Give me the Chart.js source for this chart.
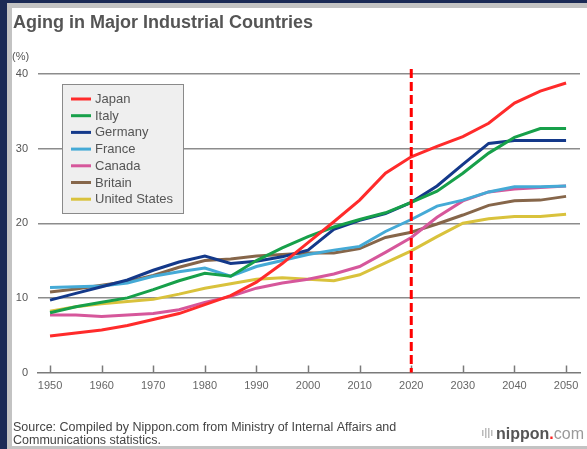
<!DOCTYPE html>
<html>
<head>
<meta charset="utf-8">
<script src="https://cdn.jsdelivr.net/npm/chart.js@4.4.0/dist/chart.umd.min.js"></script>
<style>
  html, body { margin: 0; padding: 0; background: #1b2a56; overflow: hidden; }
  #frame { position: absolute; left: 7px; top: 3px; width: 620px; height: 438px; background: #fff; border: 5px solid #c3c3c3; border-right: none; }
  #chart { position: absolute; left: 0; top: 0; }
</style>
</head>
<body>
<div id="frame"></div>
<canvas id="chart" width="587" height="449"></canvas>
<script>
const FONT = '"Liberation Sans", Arial, sans-serif';

// 65+ share of population, every 5 years
const years = [1950, 1955, 1960, 1965, 1970, 1975, 1980, 1985, 1990, 1995, 2000,
               2005, 2010, 2015, 2020, 2025, 2030, 2035, 2040, 2045, 2050];
const japan   = [4.9, 5.3, 5.7, 6.3, 7.1, 7.9, 9.1, 10.3, 12.1, 14.6, 17.4, 20.2, 23.1, 26.7, 28.9, 30.3, 31.6, 33.4, 36.1, 37.7, 38.8];
const italy   = [8.0, 8.8, 9.4, 10.0, 11.1, 12.3, 13.3, 12.9, 15.0, 16.7, 18.2, 19.5, 20.5, 21.4, 22.8, 24.3, 26.7, 29.4, 31.5, 32.7, 32.7];
const germany = [9.7, 10.6, 11.5, 12.4, 13.7, 14.8, 15.6, 14.6, 14.9, 15.5, 16.4, 19.2, 20.4, 21.3, 22.8, 25.0, 27.9, 30.7, 31.1, 31.1, 31.1];
const france  = [11.4, 11.5, 11.6, 12.0, 12.9, 13.5, 14.0, 12.9, 14.2, 15.0, 15.8, 16.4, 16.9, 18.9, 20.5, 22.3, 23.1, 24.2, 24.9, 24.9, 25.0];
const canada  = [7.7, 7.7, 7.5, 7.7, 7.9, 8.4, 9.4, 10.2, 11.3, 12.0, 12.5, 13.2, 14.2, 16.1, 18.1, 20.8, 23.0, 24.2, 24.6, 24.8, 25.0];
const britain = [10.8, 11.2, 11.7, 12.2, 13.0, 14.1, 15.0, 15.2, 15.6, 15.8, 16.0, 16.0, 16.6, 18.1, 18.8, 19.9, 21.1, 22.4, 23.0, 23.1, 23.6];
const usa     = [8.2, 8.8, 9.2, 9.5, 9.8, 10.5, 11.3, 11.9, 12.5, 12.7, 12.5, 12.3, 13.1, 14.7, 16.3, 18.2, 20.0, 20.6, 20.9, 20.9, 21.2];

const countries = ['Japan', 'Italy', 'Germany', 'France', 'Canada', 'Britain', 'United States'];
const colors = ['#ff2b2b', '#17a04a', '#14398a', '#45aad6', '#d6579b', '#86664a', '#d9c23c'];
const xTicks = [1950, 1960, 1970, 1980, 1990, 2000, 2010, 2020, 2030, 2040, 2050];
const markYear = 2020;

const series = [japan, italy, germany, france, canada, britain, usa];

const datasets = series.map((vals, i) => ({
    label: countries[i],
    data: vals.map((v, j) => ({ x: years[j], y: v })),
    borderColor: colors[i],
    borderWidth: 3,
    pointRadius: 0,
    tension: 0,
    fill: false
}));

const decorations = {
    id: 'decorations',
    afterDatasetsDraw(chart) {
        const ctx = chart.ctx;
        const area = chart.chartArea;
        const xs = chart.scales.x;

        // small upward tick marks on the x axis
        ctx.save();
        ctx.strokeStyle = '#7a7a7a';
        ctx.lineWidth = 1.5;
        xTicks.forEach(t => {
            const px = Math.round(xs.getPixelForValue(t)) + 0.5;
            ctx.beginPath();
            ctx.moveTo(px, area.bottom - 7);
            ctx.lineTo(px, area.bottom);
            ctx.stroke();
        });

        // dashed marker at 2020
        const mx = xs.getPixelForValue(markYear);
        ctx.strokeStyle = '#ff0000';
        ctx.lineWidth = 3;
        ctx.setLineDash([9, 4]);
        ctx.beginPath();
        ctx.moveTo(mx, area.top - 5);
        ctx.lineTo(mx, area.bottom);
        ctx.stroke();
        ctx.setLineDash([]);

        // legend box
        ctx.fillStyle = '#efefef';
        ctx.fillRect(62, 84, 121, 129);
        ctx.strokeStyle = '#8a8a8a';
        ctx.lineWidth = 1;
        ctx.strokeRect(62.5, 84.5, 121, 129);
        ctx.font = '13px ' + FONT;
        ctx.textBaseline = 'middle';
        countries.forEach((name, i) => {
            const y = 99 + i * 16.7;
            ctx.strokeStyle = colors[i];
            ctx.lineWidth = 3;
            ctx.beginPath();
            ctx.moveTo(71, y);
            ctx.lineTo(91, y);
            ctx.stroke();
            ctx.fillStyle = '#555';
            ctx.fillText(name, 95, y + 0.5);
        });
        ctx.restore();
    },
    afterDraw(chart) {
        const ctx = chart.ctx;
        ctx.save();
        ctx.textBaseline = 'alphabetic';
        ctx.fillStyle = '#555';
        ctx.font = 'bold 18px ' + FONT;
        ctx.fillText('Aging in Major Industrial Countries', 13, 28);

        ctx.font = '11px ' + FONT;
        ctx.fillText('(%)', 12, 60);

        ctx.fillStyle = '#444';
        ctx.font = '12.5px ' + FONT;
        ctx.fillText('Source: Compiled by Nippon.com from Ministry of Internal Affairs and', 13, 431);
        ctx.fillText('Communications statistics.', 13, 444);

        // nippon.com mark
        ctx.fillStyle = '#bbb';
        [0, 3, 6, 9].forEach((dx, k) => {
            const h = [6, 10, 10, 6][k];
            ctx.fillRect(482 + dx, 434 - h / 2 - 1, 1.5, h);
        });
        ctx.font = 'bold 16px ' + FONT;
        ctx.fillStyle = '#555';
        ctx.fillText('nippon', 496, 439);
        let w = ctx.measureText('nippon').width;
        ctx.fillStyle = '#ff2020';
        ctx.fillText('.', 496 + w, 439);
        const wd = ctx.measureText('.').width;
        ctx.font = '16px ' + FONT;
        ctx.fillStyle = '#9a9a9a';
        ctx.fillText('com', 496 + w + wd, 439);
        ctx.restore();
    }
};

new Chart(document.getElementById('chart'), {
    type: 'line',
    data: { datasets: datasets },
    options: {
        responsive: false,
        animation: false,
        layout: { padding: { left: 0, top: 74, right: 7, bottom: 0 } },
        plugins: { legend: { display: false }, tooltip: { enabled: false } },
        scales: {
            x: {
                type: 'linear',
                min: 1947.67,
                max: 2052.7,
                afterBuildTicks: s => { s.ticks = xTicks.map(v => ({ value: v })); },
                afterFit: s => { s.height = 76.5; },
                grid: { display: false, drawTicks: false },
                border: { display: true, color: '#7a7a7a', width: 1.5 },
                ticks: {
                    color: '#666',
                    font: { family: FONT, size: 11 },
                    padding: 7,
                    maxRotation: 0,
                    autoSkip: false,
                    callback: v => String(v)
                }
            },
            y: {
                min: 0,
                max: 40,
                afterFit: s => { s.width = 38; },
                ticks: {
                    stepSize: 10,
                    color: '#555',
                    font: { family: FONT, size: 11 },
                    padding: 10
                },
                grid: {
                    color: ctx => ctx.tick && ctx.tick.value === 0 ? 'rgba(0,0,0,0)' : '#8c8c8c',
                    lineWidth: 1.5,
                    drawTicks: false
                },
                border: { display: false }
            }
        }
    },
    plugins: [decorations]
});
</script>
</body>
</html>
